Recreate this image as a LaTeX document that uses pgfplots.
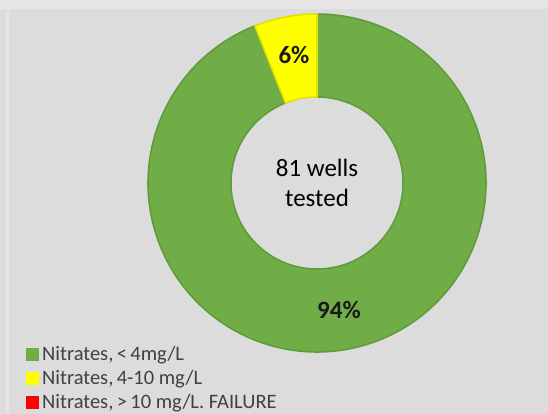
\documentclass[border=0pt]{standalone}
\usepackage{pgfplots}
\pgfplotsset{compat=1.18}
\usepackage{pgfplotstable}
\usepackage{fontspec}
\setmainfont{Carlito}
\usetikzlibrary{calc}
\definecolor{bg}{HTML}{DCDCDC}
\definecolor{bgl}{HTML}{E6E6E6}
\definecolor{cgreen}{HTML}{70AD47}
\definecolor{cgreenE}{HTML}{5E9B3B}
\definecolor{cyellow}{HTML}{FFFF00}
\definecolor{cyellowE}{HTML}{E0E000}
\definecolor{cred}{HTML}{FF0000}
\definecolor{txt}{HTML}{404040}

\pgfplotstableread{
label value
green 94
yellow 6
red 0
}\donutdata

\begin{document}
\begin{tikzpicture}
\pgfplotstablegetelem{0}{value}\of\donutdata \global\let\vg\pgfplotsretval
\pgfplotstablegetelem{1}{value}\of\donutdata \global\let\vy\pgfplotsretval
\pgfplotstablegetelem{2}{value}\of\donutdata \global\let\vr\pgfplotsretval
\pgfmathsetmacro{\ya}{90}
\pgfmathsetmacro{\yb}{90+3.6*\vy}
\pgfmathsetmacro{\gb}{\yb+3.6*\vg}
\begin{axis}[scale only axis, width=548pt, height=414pt,
  xmin=0, xmax=548, ymin=0, ymax=414, hide axis, clip=false,
  /pgf/number format/assume math mode=true]
\fill[bg] (axis cs:0,0) rectangle (axis cs:548,414);
\fill[bgl] (axis cs:6,0) rectangle (axis cs:9,404);
\fill[bgl] (axis cs:0,405) rectangle (axis cs:548,414);
\coordinate (C) at (axis cs:317,231);
% green slice
\filldraw[fill=cgreen, draw=cgreenE, line width=1.5pt]
  ($(C)+(\yb:169pt)$) arc[start angle=\yb, end angle=\gb, radius=169pt]
  -- ($(C)+(\gb:86pt)$) arc[start angle=\gb, end angle=\yb, radius=86pt] -- cycle;
% yellow slice
\filldraw[fill=cyellow, draw=cyellowE, line width=1.5pt]
  ($(C)+(\ya:169pt)$) arc[start angle=\ya, end angle=\yb, radius=169pt]
  -- ($(C)+(\yb:86pt)$) arc[start angle=\yb, end angle=\ya, radius=86pt] -- cycle;
% labels
\node[align=center, text=black, font=\fontsize{25}{30}\selectfont] at (axis cs:317,231) {81 wells\\tested};
\node[text=black!90, font=\fontsize{25}{30}\selectfont\bfseries] at (axis cs:294,359) {\pgfmathprintnumber[precision=0,assume math mode=true]{\vy}\%};
\node[text=black!90, font=\fontsize{25}{30}\selectfont\bfseries] at (axis cs:339,104) {\pgfmathprintnumber[precision=0,assume math mode=true]{\vg}\%};
% legend
\fill[cgreen] (axis cs:26,52.5) rectangle (axis cs:39,65.5);
\fill[cyellow] (axis cs:26,28.5) rectangle (axis cs:39,41.5);
\fill[cred] (axis cs:26,4.5) rectangle (axis cs:39,17.5);
\node[anchor=west, text=txt, font=\fontsize{20.5}{24}\selectfont, inner sep=0pt] at (axis cs:42,59) {Nitrates,\,<\,4mg/L};
\node[anchor=west, text=txt, font=\fontsize{20.5}{24}\selectfont, inner sep=0pt] at (axis cs:42,35) {Nitrates,\,4-10 mg/L};
\node[anchor=west, text=txt, font=\fontsize{20.5}{24}\selectfont, inner sep=0pt] at (axis cs:42,11) {Nitrates,\,>\,10 mg/L. FAILURE};
\end{axis}
\end{tikzpicture}
\end{document}
